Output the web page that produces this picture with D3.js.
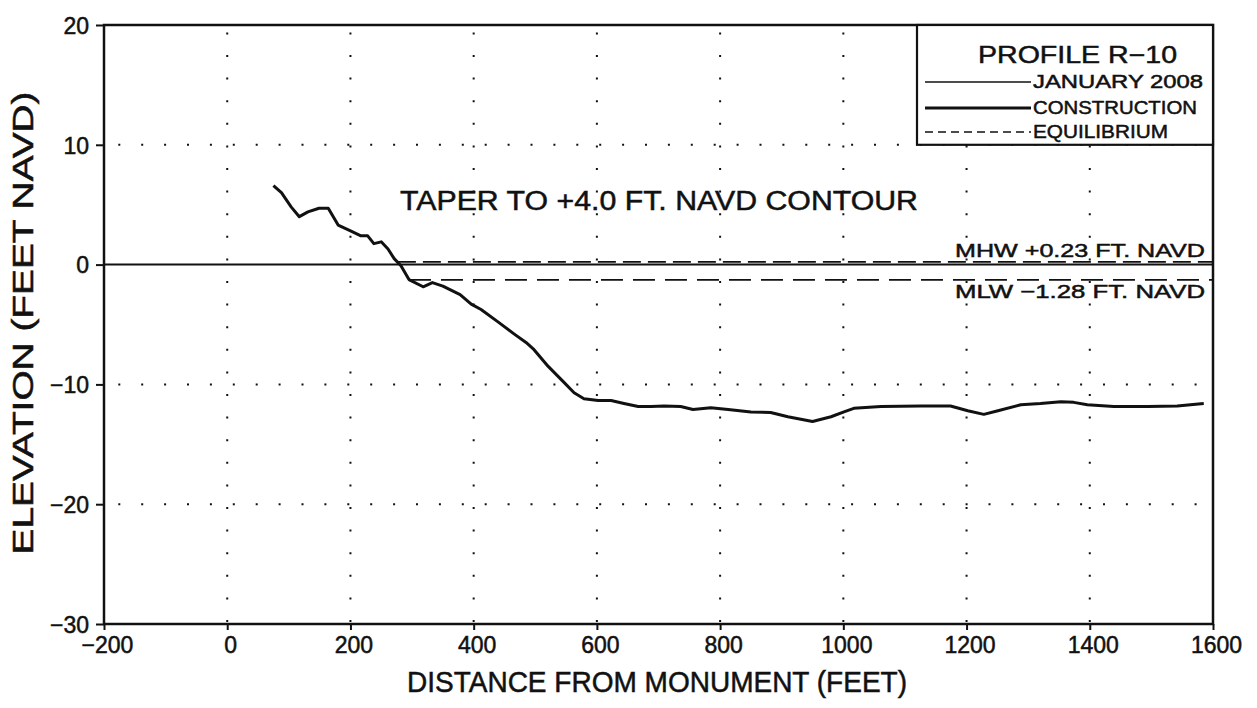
<!DOCTYPE html>
<html><head><meta charset="utf-8">
<script src="https://cdn.jsdelivr.net/npm/d3@7"></script>
<style>body{margin:0;background:#fff}svg{display:block}text{font-family:"Liberation Sans",Arial,sans-serif;fill:#111;stroke:#111;stroke-width:0.5px}</style>
</head><body><svg id="c" width="1257" height="708"></svg>
<script>
const profileX=[75,88,104,117,131,149,164,180,201,217,228,238,250,261,271,282,295,318,333,350,378,396,412,440,466,485,498,521,547,563,579,602,623,644,667,688,709,736,756,785,813,850,882,910,950,980,1001,1017,1061,1126,1174,1202,1228,1251,1288,1320,1353,1374,1396,1439,1494,1542,1585];
const profileY=[6.6,6.0,4.8,4.0,4.4,4.7,4.7,3.3,2.8,2.4,2.4,1.75,1.9,1.3,0.5,-0.1,-1.25,-1.85,-1.5,-1.8,-2.5,-3.3,-3.75,-4.8,-5.8,-6.5,-7.1,-8.5,-9.85,-10.7,-11.2,-11.35,-11.35,-11.6,-11.85,-11.85,-11.8,-11.85,-12.1,-11.95,-12.1,-12.3,-12.35,-12.7,-13.1,-12.7,-12.3,-12.0,-11.85,-11.8,-11.8,-12.2,-12.5,-12.2,-11.7,-11.6,-11.45,-11.5,-11.7,-11.85,-11.85,-11.8,-11.6];
const xTicks=[-200,0,200,400,600,800,1000,1200,1400,1600];
const yTicks=[20,10,0,-10,-20,-30];
const xGrid=[0,200,400,600,800,1000,1200,1400];
const yGrid=[10,-10,-20];
const mhw=0.23, mlw=-1.28;
const mhwStart=277, mlwStart=295;
const legendLabels=["JANUARY 2008","CONSTRUCTION","EQUILIBRIUM"];

const svg=d3.select("#c");
const x=d3.scaleLinear().domain([-200,1600]).range([104,1213]);
const y=d3.scaleLinear().domain([-30,20]).range([624,25]);
const fmt=d=>d<0?"\u2212"+Math.abs(d):String(d);

// grid dots
svg.append("g").selectAll("line").data(xGrid).join("line")
  .attr("x1",d=>x(d)).attr("x2",d=>x(d)).attr("y1",y(20)).attr("y2",y(-30))
  .attr("stroke","#111").attr("stroke-width",2).attr("stroke-dasharray","2,20.6").attr("stroke-dashoffset",15.2);
svg.append("g").selectAll("line").data(yGrid).join("line")
  .attr("x1",x(-200)).attr("x2",x(1600)).attr("y1",d=>y(d)).attr("y2",d=>y(d))
  .attr("stroke","#111").attr("stroke-width",2).attr("stroke-dasharray","2,20.9").attr("stroke-dashoffset",8.6);

// zero line
svg.append("line").attr("x1",x(-200)).attr("x2",x(1600)).attr("y1",y(0)).attr("y2",y(0)).attr("stroke","#111").attr("stroke-width",2);
// MHW / MLW
svg.append("line").attr("x1",x(mhwStart)).attr("x2",x(1600)).attr("y1",y(mhw)).attr("y2",y(mhw)).attr("stroke","#111").attr("stroke-width",1.7).attr("stroke-dasharray","18,7");
svg.append("line").attr("x1",x(mlwStart)).attr("x2",x(1600)).attr("y1",y(mlw)).attr("y2",y(mlw)).attr("stroke","#111").attr("stroke-width",1.7).attr("stroke-dasharray","22,10");

// profile
svg.append("path").datum(profileX.map((d,i)=>[d,profileY[i]]))
  .attr("d",d3.line().x(d=>x(d[0])).y(d=>y(d[1])))
  .attr("fill","none").attr("stroke","#111").attr("stroke-width",3).attr("stroke-linejoin","round");

// axes
const xa=svg.append("g").attr("transform",`translate(0,${y(-30)})`).call(d3.axisBottom(x).tickValues(xTicks).tickFormat(fmt).tickSize(6).tickPadding(5));
const ya=svg.append("g").attr("transform",`translate(${x(-200)},0)`).call(d3.axisLeft(y).tickValues(yTicks).tickFormat(fmt).tickSize(8).tickPadding(7));
[xa,ya].forEach(g=>{g.select(".domain").remove();g.selectAll("line").attr("stroke","#111").attr("stroke-width",2);g.selectAll("text").attr("font-size",23).attr("fill","#111").style("font-family","Liberation Sans, Arial, sans-serif");});
xa.selectAll("text").attr("dy","0.8em").attr("dx",3);
ya.selectAll("text").attr("dy","0.36em");
// frame
svg.append("rect").attr("x",x(-200)).attr("y",y(20)).attr("width",x(1600)-x(-200)).attr("height",y(-30)-y(20)).attr("fill","none").attr("stroke","#111").attr("stroke-width",2.5);

// legend
svg.append("rect").attr("x",917).attr("y",y(20)).attr("width",x(1600)-917).attr("height",y(10)-y(20)).attr("fill","#fff").attr("stroke","#111").attr("stroke-width",2.2);
svg.append("text").attr("x",978).attr("y",63).attr("font-size",24).attr("textLength",199).attr("lengthAdjust","spacingAndGlyphs").text("PROFILE R\u221210");
const ly=[82,108,132], lb=[88,114,138], lw=[1.3,2.8,1.5], ld=[null,null,"8,5"], lr=[1203,1197,1168];
legendLabels.forEach((t,i)=>{
  svg.append("line").attr("x1",925).attr("x2",1031).attr("y1",ly[i]).attr("y2",ly[i]).attr("stroke","#111").attr("stroke-width",lw[i]).attr("stroke-dasharray",ld[i]);
  svg.append("text").attr("x",1033).attr("y",lb[i]).attr("font-size",19).attr("textLength",lr[i]-1033).attr("lengthAdjust","spacingAndGlyphs").text(t);
});

// annotations
svg.append("text").attr("x",400).attr("y",210).attr("font-size",27).attr("textLength",518).attr("lengthAdjust","spacingAndGlyphs").text("TAPER TO +4.0 FT. NAVD CONTOUR");
svg.append("text").attr("x",955).attr("y",257).attr("font-size",19).attr("textLength",250).attr("lengthAdjust","spacingAndGlyphs").text("MHW +0.23 FT. NAVD");
svg.append("text").attr("x",955).attr("y",298).attr("font-size",19).attr("textLength",250).attr("lengthAdjust","spacingAndGlyphs").text("MLW \u22121.28 FT. NAVD");

// axis titles
svg.append("text").attr("x",657).attr("y",692).attr("text-anchor","middle").attr("font-size",29).attr("textLength",500).attr("lengthAdjust","spacingAndGlyphs").text("DISTANCE FROM MONUMENT (FEET)");
svg.append("text").attr("transform","translate(33,323) rotate(-90)").attr("text-anchor","middle").attr("font-size",29).attr("textLength",463).attr("lengthAdjust","spacingAndGlyphs").text("ELEVATION (FEET NAVD)");
</script></body></html>
